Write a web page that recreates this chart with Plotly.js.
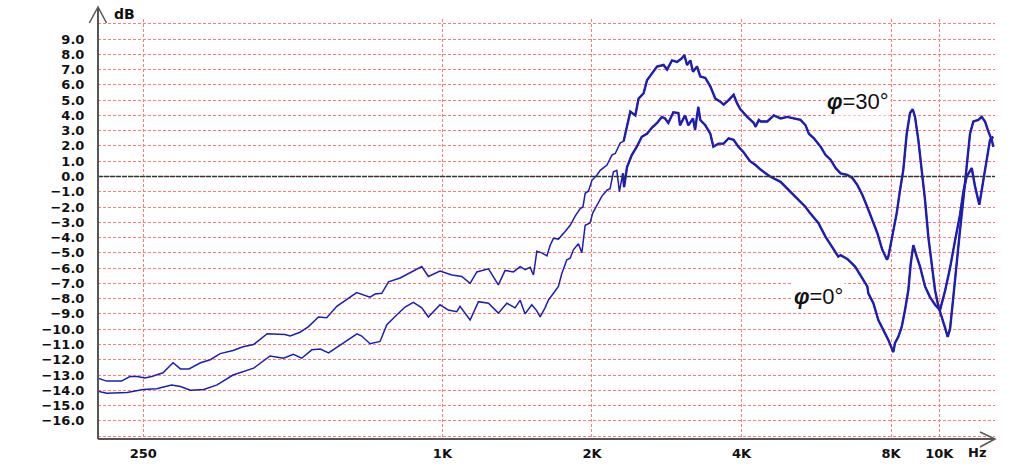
<!DOCTYPE html>
<html>
<head>
<meta charset="utf-8">
<script src="https://cdn.plot.ly/plotly-3.0.1.min.js"></script>
<style>
html,body{margin:0;padding:0;background:#ffffff;}
#chart{width:1018px;height:475px;}
</style>
</head>
<body>
<div id="chart"></div>
<script>
// Frequency response, phi = 30 degrees (Hz, dB)
const freq30 = [202,211,226,235,243,252,260,274,287,297,
309,326,341,357,379,397,417,444,482,494,
517,537,563,585,613,672,715,732,755,779,
822,868,909,937,989,1045,1094,1137,1173,1238,
1296,1337,1390,1434,1467,1502,1525,1549,1585,1623,
1648,1673,1712,1766,1808,1850,1894,1918,1938,1968,
2000,2047,2078,2144,2194,2228,2280,2316,2352,2389,
2445,2482,2541,2581,2642,2704,2787,2832,2898,2966,
3036,3068,3107,3155,3194,3254,3304,3382,3461,3542,
3626,3681,3768,3856,3917,3978,4107,4235,4268,4334,
4368,4506,4646,4793,4944,5098,5258,5382,5465,5593,
5770,5905,6043,6185,6330,6530,6683,6839,7000,7164,
7332,7504,7680,7850,7897,8022,8210,8337,8466,8600,
8733,8843,8938,9075,9219,9362,9506,9657,9805,9957,
10115,10270,10399,10511,10673,10842,11010,11179,11357,11532,
11710,11984,12174,12362,12552,12752,12847];
const db30 = [-13.2,-13.4,-13.4,-13.1,-13.1,-13.2,-13.1,-12.85,-12.2,-12.6,
-12.6,-12.2,-12.0,-11.6,-11.4,-11.15,-11.0,-10.3,-10.35,-10.45,
-10.2,-9.85,-9.2,-9.25,-8.5,-7.6,-7.9,-7.7,-7.65,-6.9,
-6.65,-6.25,-5.9,-6.55,-6.2,-6.45,-6.55,-7.0,-6.25,-6.05,
-7.1,-6.15,-6.25,-5.9,-6.1,-5.95,-6.45,-4.9,-5.0,-5.2,
-4.5,-4.05,-4.1,-3.6,-3.2,-2.6,-2.1,-2.0,-1.1,-0.95,
-0.25,0.1,0.4,0.75,1.4,1.5,2.2,2.3,3.3,4.25,
4.0,5.1,5.45,6.3,6.75,7.2,7.3,7.0,7.6,7.5,
7.75,7.95,7.3,7.6,6.85,7.2,6.55,6.45,5.9,5.1,
4.9,4.7,5.0,5.35,4.8,4.4,3.9,3.5,3.25,3.7,
3.6,3.6,4.0,3.8,3.9,3.8,3.7,3.35,2.8,2.5,
1.95,1.4,1.1,0.55,0.2,0.1,-0.1,-0.55,-1.2,-2.0,
-2.85,-3.7,-4.8,-5.45,-5.25,-4.15,-2.4,-0.9,0.45,2.8,
4.15,4.4,3.9,2.4,0.45,-1.55,-3.95,-5.9,-7.45,-8.5,
-9.3,-9.9,-10.5,-10.0,-7.9,-5.5,-3.5,-1.5,0.85,2.8,
3.6,3.7,3.9,3.6,2.95,2.4,1.95];

// Frequency response, phi = 0 degrees (Hz, dB)
const freq0 = [202,211,232,250,266,285,297,311,331,352,
379,417,450,479,501,521,546,568,590,623,
673,688,715,749,773,810,841,874,909,937,
989,1028,1069,1085,1137,1182,1238,1296,1348,1401,
1434,1467,1513,1549,1573,1609,1634,1673,1712,1739,
1780,1808,1835,1878,1908,1938,1982,2007,2047,2093,
2144,2175,2209,2244,2271,2307,2321,2352,2405,2462,
2519,2581,2642,2704,2764,2806,2849,2916,2985,3008,
3079,3126,3194,3225,3274,3304,3382,3461,3510,3593,
3681,3768,3856,3941,4034,4161,4268,4368,4565,4793,
5008,5205,5382,5494,5710,5905,6075,6264,6330,6530,
6770,7000,7164,7199,7368,7540,7717,7897,8082,8146,
8271,8403,8532,8664,8761,8867,9008,9147,9362,9580,
9805,10035,10270,10511,10758,11010,11179,11357,11624,11802,
12039,12230,12459,12651,12847];
const db0 = [-14.05,-14.2,-14.15,-13.95,-13.9,-13.65,-13.75,-14.0,-13.95,-13.65,
-13.0,-12.55,-11.75,-11.9,-11.65,-11.9,-11.35,-11.3,-11.55,-11.05,
-10.3,-10.45,-10.95,-10.8,-9.7,-9.05,-8.55,-8.25,-8.6,-9.2,
-8.4,-8.75,-8.85,-8.5,-9.4,-8.2,-8.3,-8.95,-8.3,-8.6,
-8.1,-9.0,-8.4,-8.8,-9.2,-8.6,-8.1,-7.65,-7.2,-6.35,
-5.45,-5.35,-4.8,-4.4,-5.0,-3.2,-3.05,-2.4,-1.85,-1.3,
-0.9,-0.8,0.3,0.4,-1.0,0.2,-0.7,0.6,1.4,1.95,
2.6,2.8,3.2,3.5,3.9,3.8,3.5,4.2,4.15,3.35,
4.0,3.35,3.8,3.05,4.55,3.7,3.35,2.8,1.95,2.15,
2.15,2.5,2.4,1.95,1.6,1.0,0.75,0.45,0.0,-0.35,
-1.0,-1.55,-2.0,-2.4,-3.05,-3.95,-4.6,-5.25,-5.15,-5.4,
-5.9,-6.7,-7.2,-7.65,-8.3,-9.4,-10.05,-10.7,-11.5,-10.9,
-10.5,-9.85,-8.75,-7.45,-5.7,-4.5,-5.25,-5.9,-7.2,-7.9,
-8.4,-8.75,-7.5,-6.0,-4.2,-2.5,-1.0,0.0,0.55,-0.65,
-1.85,-0.45,1.3,2.4,2.6];

// Axis ticks
const xTickVals = [250,1000,2000,4000,8000,10000];
const xTickText = ['250','1K','2K','4K','8K','10K'];
const yTickVals = [-17,-16,-15,-14,-13,-12,-11,-10,-9,-8,-7,-6,-5,-4,-3,-2,-1,0,1,2,3,4,5,6,7,8,9,10];
const yTickText = ['','−16.0','−15.0','−14.0','−13.0','−12.0','−11.0','−10.0','−9.0','−8.0','−7.0','−6.0','−5.0','−4.0','−3.0','−2.0','−1.0','0.0','1.0','2.0','3.0','4.0','5.0','6.0','7.0','8.0','9.0',''];

const label30 = '<b><i>φ</i></b>=30°';
const label0 = '<b><i>φ</i></b>=0°';

const lineColor = '#1e1eb4';
const gridColor = '#ff7a7a';
const axisColor = '#555555';
const tickFont = {family: 'DejaVu Sans, sans-serif', size: 13, color: '#111111', weight: 'bold'};

// the measured curves get visibly thicker (noisier) above about 2.3 kHz
const noisyFrom = 2300;
function part(xs, ys) {
  const px = [], py = [];
  for (let i = 0; i < xs.length; i++) {
    if (xs[i] >= noisyFrom) { px.push(xs[i]); py.push(ys[i]); }
  }
  return [px, py];
}
const n30 = part(freq30, db30);
const n0 = part(freq0, db0);

const traces = [
  {x: freq30, y: db30, type: 'scatter', mode: 'lines', name: 'φ=30°',
   line: {color: lineColor, width: 1.5}, hoverinfo: 'skip'},
  {x: freq0, y: db0, type: 'scatter', mode: 'lines', name: 'φ=0°',
   line: {color: lineColor, width: 1.5}, hoverinfo: 'skip'},
  {x: n30[0], y: n30[1], type: 'scatter', mode: 'lines', name: 'φ=30° hf',
   line: {color: lineColor, width: 2.4}, hoverinfo: 'skip'},
  {x: n0[0], y: n0[1], type: 'scatter', mode: 'lines', name: 'φ=0° hf',
   line: {color: lineColor, width: 2.4}, hoverinfo: 'skip'}
];

const layout = {
  width: 1018, height: 475,
  margin: {l: 98, r: 23, t: 19, b: 36},
  paper_bgcolor: '#ffffff', plot_bgcolor: '#ffffff',
  showlegend: false,
  xaxis: {
    type: 'log', range: [Math.log10(202.7), Math.log10(12947)],
    tickmode: 'array', tickvals: xTickVals, ticktext: xTickText,
    showgrid: true, gridcolor: gridColor, gridwidth: 1, griddash: '3px,2px',
    zeroline: false, showline: false,
    ticks: 'outside', ticklen: 2, tickcolor: 'rgba(0,0,0,0)',
    tickfont: tickFont, fixedrange: true
  },
  yaxis: {
    range: [-17.19, 10.31],
    tickmode: 'array', tickvals: yTickVals, ticktext: yTickText,
    showgrid: true, gridcolor: gridColor, gridwidth: 1, griddash: '3px,2px',
    zeroline: false, showline: false,
    ticks: 'outside', ticklen: 10, tickcolor: 'rgba(0,0,0,0)',
    tickfont: tickFont, fixedrange: true
  },
  shapes: [
    {type: 'line', xref: 'paper', yref: 'y', x0: 0, x1: 1, y0: 0, y1: 0,
     line: {color: '#333333', width: 1.6, dash: '5px,1px'}, layer: 'above'},
    {type: 'line', xref: 'paper', yref: 'paper', x0: 0, x1: 0, y0: 0, y1: 1.0286,
     line: {color: axisColor, width: 2}},
    {type: 'path', xref: 'paper', yref: 'paper',
     path: 'M -0.0097,0.9905 L 0,1.0286 L 0.0095,0.9905',
     line: {color: axisColor, width: 1.5}},
    {type: 'line', xref: 'paper', yref: 'paper', x0: 0, x1: 1.0, y0: 0, y1: 0,
     line: {color: axisColor, width: 2}},
    {type: 'path', xref: 'paper', yref: 'paper',
     path: 'M 0.9833,0.0167 L 1.0,0 L 0.9833,-0.019',
     line: {color: axisColor, width: 1.5}}
  ],
  annotations: [
    {text: 'dB', xref: 'paper', yref: 'paper', x: 0.029, y: 1.0119,
     xanchor: 'center', yanchor: 'middle', showarrow: false,
     font: {family: 'DejaVu Sans, sans-serif', size: 14, color: '#111111', weight: 'bold'}},
    {text: 'Hz', xref: 'paper', yref: 'paper', x: 0.98, y: -0.031,
     xanchor: 'center', yanchor: 'middle', showarrow: false, font: tickFont},
    {text: label30, xref: 'paper', yref: 'paper', x: 0.8473, y: 0.803,
     xanchor: 'center', yanchor: 'middle', showarrow: false, bgcolor: '#ffffff',
     font: {family: 'Liberation Sans, Arial, sans-serif', size: 22, color: '#111111'}},
    {text: label0, xref: 'paper', yref: 'paper', x: 0.8027, y: 0.3388,
     xanchor: 'center', yanchor: 'middle', showarrow: false, bgcolor: '#ffffff',
     font: {family: 'Liberation Sans, Arial, sans-serif', size: 22, color: '#111111'}}
  ]
};

Plotly.newPlot('chart', traces, layout, {displayModeBar: false, staticPlot: true});
</script>
</body>
</html>
